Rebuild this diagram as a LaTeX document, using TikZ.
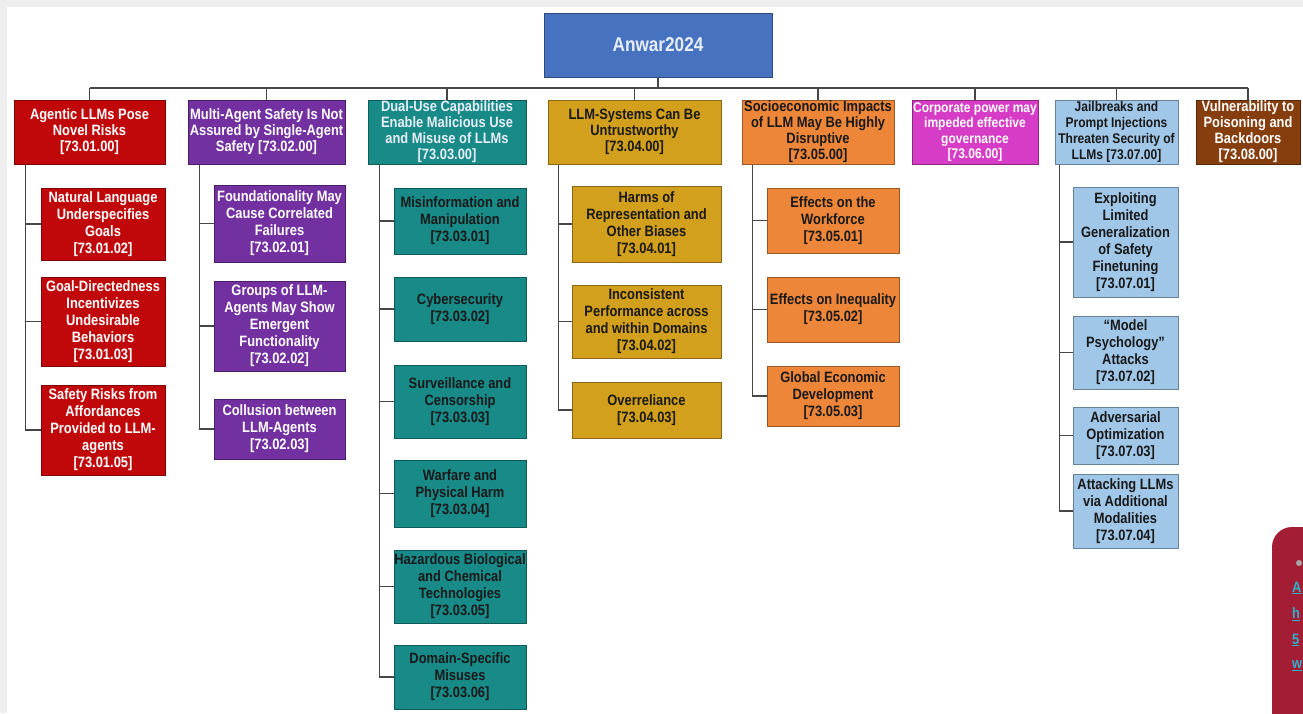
\documentclass[tikz,border=0pt]{standalone}
\usepackage{fontspec}
\setmainfont[FakeStretch=0.86]{Liberation Sans}
\usepackage{xcolor}
\usepackage{tikz}

\definecolor{framegray}{RGB}{238,238,238}
\definecolor{linkgray}{RGB}{70,70,70}
\definecolor{rootblue}{RGB}{70,114,192}
\definecolor{rootwhite}{RGB}{232,238,248}
\definecolor{redc}{RGB}{192,8,10}
\definecolor{purplec}{RGB}{114,48,160}
\definecolor{tealc}{RGB}{24,138,136}
\definecolor{goldc}{RGB}{210,160,28}
\definecolor{orangec}{RGB}{238,134,58}
\definecolor{magentac}{RGB}{214,60,198}
\definecolor{bluec}{RGB}{160,198,232}
\definecolor{brownc}{RGB}{134,62,14}
\definecolor{darktxt}{RGB}{25,25,25}
\definecolor{cardred}{RGB}{163,30,52}
\definecolor{cardlink}{RGB}{40,180,205}

\begin{document}
\begin{tikzpicture}[x=1pt, y=-1pt,
    link/.style={draw=linkgray, line width=1.8pt},
    box/.style={draw=#1!65!black, fill=#1, line width=1pt, align=center, inner sep=0pt,
        font=\bfseries\fontsize{15}{17}\selectfont},
    head/.style={box=#1, minimum height=64, font=\bfseries\fontsize{15}{16}\selectfont},
    cardtxt/.style={anchor=west, inner sep=0pt, text=cardlink, font=\bfseries\fontsize{15}{17}\selectfont}]

    % Frame
    \fill[framegray] (0,0) rectangle (1303,713);
    \fill[white] (7,7) rectangle (1303,713);
    \useasboundingbox (0,0) rectangle (1303,713);

    % Root
    \node[box=rootblue, text=rootwhite, minimum width=228, minimum height=64,
        font=\bfseries\fontsize{20}{24}\selectfont] (root) at (658,45) {Anwar2024};
    \coordinate (barL) at (90,88);
    \coordinate (barR) at (1248,88);

    % Headings
    \node[head=redc, text=white, minimum width=151] (agentic) at (89.5,132) {Agentic LLMs Pose\\Novel Risks\\{[73.01.00]}};
    \node[head=purplec, text=white, minimum width=157] (multi) at (266.5,132) {Multi-Agent Safety Is Not\\Assured by Single-Agent\\Safety [73.02.00]};
    \node[head=tealc, text=rootwhite, minimum width=158] (dual) at (447,132) {Dual-Use Capabilities\\Enable Malicious Use\\and Misuse of LLMs\\{[73.03.00]}};
    \node[head=goldc, text=darktxt, minimum width=173] (untrust) at (634.5,132) {LLM-Systems Can Be\\Untrustworthy\\{[73.04.00]}};
    \node[head=orangec, text=darktxt, minimum width=152] (socio) at (818,132) {Socioeconomic Impacts\\of LLM May Be Highly\\Disruptive\\{[73.05.00]}};
    \node[head=magentac, text=white, minimum width=126, font=\bfseries\fontsize{14}{15.5}\selectfont] (corp) at (975,132) {Corporate power may\\impeded effective\\governance\\{[73.06.00]}};
    \node[head=bluec, text=darktxt, minimum width=123, font=\bfseries\fontsize{14}{16}\selectfont] (jail) at (1116.5,132) {Jailbreaks and\\Prompt Injections\\Threaten Security of\\LLMs [73.07.00]};
    \node[head=brownc, text=white, minimum width=104] (vuln) at (1248,132) {Vulnerability to\\Poisoning and\\Backdoors\\{[73.08.00]}};

    % Agentic LLMs
    \node[box=redc, text=white, minimum width=124, minimum height=72] (agentic1) at (103,224) {Natural Language\\Underspecifies\\Goals\\{[73.01.02]}};
    \node[box=redc, text=white, minimum width=124, minimum height=89] (agentic2) at (103,321.5) {Goal-Directedness\\Incentivizes\\Undesirable\\Behaviors\\{[73.01.03]}};
    \node[box=redc, text=white, minimum width=124, minimum height=90] (agentic3) at (103,430) {Safety Risks from\\Affordances\\Provided to LLM-\\agents\\{[73.01.05]}};

    % Multi-agent
    \node[box=purplec, text=white, minimum width=131, minimum height=77] (multi1) at (279.5,223.5) {Foundationality May\\Cause Correlated\\Failures\\{[73.02.01]}};
    \node[box=purplec, text=white, minimum width=131, minimum height=90] (multi2) at (279.5,326) {Groups of LLM-\\Agents May Show\\Emergent\\Functionality\\{[73.02.02]}};
    \node[box=purplec, text=white, minimum width=131, minimum height=60] (multi3) at (279.5,429) {Collusion between\\LLM-Agents\\{[73.02.03]}};

    % Dual-use
    \node[box=tealc, text=darktxt, minimum width=132, minimum height=66] (dual1) at (460,221) {Misinformation and\\Manipulation\\{[73.03.01]}};
    \node[box=tealc, text=darktxt, minimum width=132, minimum height=64] (dual2) at (460,309) {Cybersecurity\\{[73.03.02]}};
    \node[box=tealc, text=darktxt, minimum width=132, minimum height=73] (dual3) at (460,401.5) {Surveillance and\\Censorship\\{[73.03.03]}};
    \node[box=tealc, text=darktxt, minimum width=132, minimum height=67] (dual4) at (460,493.5) {Warfare and\\Physical Harm\\{[73.03.04]}};
    \node[box=tealc, text=darktxt, minimum width=132, minimum height=73] (dual5) at (460,586.5) {Hazardous Biological\\and Chemical\\Technologies\\{[73.03.05]}};
    \node[box=tealc, text=darktxt, minimum width=132, minimum height=64] (dual6) at (460,677) {Domain-Specific\\Misuses\\{[73.03.06]}};

    % Untrustworthy
    \node[box=goldc, text=darktxt, minimum width=149, minimum height=76] (untrust1) at (646.5,224) {Harms of\\Representation and\\Other Biases\\{[73.04.01]}};
    \node[box=goldc, text=darktxt, minimum width=149, minimum height=73] (untrust2) at (646.5,321.5) {Inconsistent\\Performance across\\and within Domains\\{[73.04.02]}};
    \node[box=goldc, text=darktxt, minimum width=149, minimum height=56] (untrust3) at (646.5,410) {Overreliance\\{[73.04.03]}};

    % Socioeconomic
    \node[box=orangec, text=darktxt, minimum width=132, minimum height=65] (socio1) at (833,220.5) {Effects on the\\Workforce\\{[73.05.01]}};
    \node[box=orangec, text=darktxt, minimum width=132, minimum height=65] (socio2) at (833,309.5) {Effects on Inequality\\{[73.05.02]}};
    \node[box=orangec, text=darktxt, minimum width=132, minimum height=60] (socio3) at (833,396) {Global Economic\\Development\\{[73.05.03]}};

    % Jailbreaks
    \node[box=bluec, text=darktxt, minimum width=105, minimum height=110] (jail1) at (1125.5,242) {Exploiting\\Limited\\Generalization\\of Safety\\Finetuning\\{[73.07.01]}};
    \node[box=bluec, text=darktxt, minimum width=105, minimum height=73] (jail2) at (1125.5,352.5) {``Model\\Psychology''\\Attacks\\{[73.07.02]}};
    \node[box=bluec, text=darktxt, minimum width=105, minimum height=57] (jail3) at (1125.5,435.5) {Adversarial\\Optimization\\{[73.07.03]}};
    \node[box=bluec, text=darktxt, minimum width=105, minimum height=74] (jail4) at (1125.5,511) {Attacking LLMs\\via Additional\\Modalities\\{[73.07.04]}};

    % Tree lines
    \draw[link] (root.south) -- (root.south |- barL);
    \draw[link] (barL) -- (barR);
    \foreach \h in {agentic,multi,dual,untrust,socio,corp,jail,vuln}
        \draw[link] (\h.north) -- (\h.north |- barL);
    \foreach \k in {agentic1,agentic2,agentic3}
        \draw[link] ([xshift=12pt]agentic.south west) |- (\k.west);
    \foreach \k in {multi1,multi2,multi3}
        \draw[link] ([xshift=12pt]multi.south west) |- (\k.west);
    \foreach \k in {dual1,dual2,dual3,dual4,dual5,dual6}
        \draw[link] ([xshift=12pt]dual.south west) |- (\k.west);
    \foreach \k in {untrust1,untrust2,untrust3}
        \draw[link] ([xshift=11pt]untrust.south west) |- (\k.west);
    \foreach \k in {socio1,socio2,socio3}
        \draw[link] ([xshift=11pt]socio.south west) |- (\k.west);
    \foreach \k in {jail1,jail2,jail3,jail4}
        \draw[link] ([xshift=5pt]jail.south west) |- (\k.west);

    % Card at the corner
    \begin{scope}
        \clip (0,0) rectangle (1303,713);
        \fill[cardred, rounded corners=20] (1272,527) rectangle (1340,740);
        \fill[gray!70] (1299,563) circle (3);
        \node[cardtxt] (cardA) at (1292,588) {\underline{A}};
        \node[cardtxt] (cardB) at (1292,614) {\underline{h}};
        \node[cardtxt] (cardC) at (1292,640) {\underline{5}};
        \node[cardtxt] (cardD) at (1292,666) {\underline{w}};
    \end{scope}
\end{tikzpicture}
\end{document}
